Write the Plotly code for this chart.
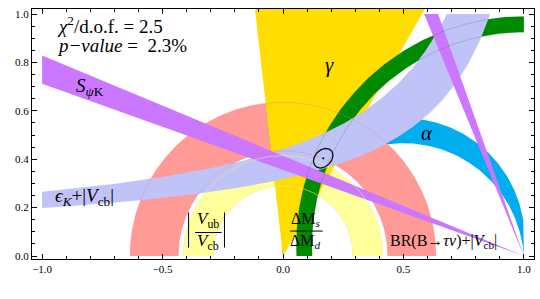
import numpy as np
import plotly.graph_objects as go

# ---- constraint parameters ----
vub_radii = [0.29, 0.415]            # |Vub/Vcb| annulus around (0,0)
btau_radii = [0.435, 0.635]          # BR(B->tau nu)+|Vcb| annulus around (0,0)
dm_center = [1.0, 0.045]             # Delta Ms / Delta Md annulus
dm_radii = [0.88, 0.945]
gamma_deg = [60.0, 96.5]             # gamma wedge from (0,0)
alpha_deg = [82.5, 94.0]             # alpha arcs through (0,0) and (1,0)
beta_deg = [19.6, 22.5]              # S_psiK wedge from (1,0) (two-fold solution)
epsk_upper = [1.135, 0.4246, 0.0671]  # eta = k/(a-rho)+b  : a, k, b
epsk_lower = [1.189, 0.3102, 0.0563]
fit_center = [0.167, 0.404]
fit_axes = [0.046, 0.034]
fit_angle_deg = 45.0
chi2_dof = 2.5
p_value = 2.3

x_range = [-1.042, 1.042]
y_range = [-0.0124, 1.0207]

colors = dict(alpha="#00AEEF", vub="#FFFF9C", btau="#FF9A97", gamma="#FFDD00",
              dm="#008A00", epsk="#C0C3F7", spsik="#CC77FF")

FONT = "Liberation Serif, Times New Roman, DejaVu Serif, serif"


def clip(xs, ys, xmin=-1.0, xmax=1.0, ymin=0.0, ymax=1.0):
    pts = list(zip(xs, ys))

    def clip_edge(pts, inside, inter):
        out = []
        n = len(pts)
        for i in range(n):
            cur, prev = pts[i], pts[i - 1]
            if inside(cur):
                if not inside(prev):
                    out.append(inter(prev, cur))
                out.append(cur)
            elif inside(prev):
                out.append(inter(prev, cur))
        return out

    def ix(v):
        return lambda p, q: (v, p[1] + (q[1] - p[1]) * (v - p[0]) / (q[0] - p[0]))

    def iy(v):
        return lambda p, q: (p[0] + (q[0] - p[0]) * (v - p[1]) / (q[1] - p[1]), v)

    pts = clip_edge(pts, lambda p: p[0] >= xmin, ix(xmin))
    pts = clip_edge(pts, lambda p: p[0] <= xmax, ix(xmax))
    pts = clip_edge(pts, lambda p: p[1] >= ymin, iy(ymin))
    pts = clip_edge(pts, lambda p: p[1] <= ymax, iy(ymax))
    if not pts:
        return [], []
    a = np.array(pts)
    return list(a[:, 0]) + [a[0, 0]], list(a[:, 1]) + [a[0, 1]]


def annulus(cx, cy, r1, r2):
    t = np.linspace(-0.2, np.pi + 0.2, 300)
    xs = np.concatenate([cx + r2 * np.cos(t), cx + r1 * np.cos(t[::-1])])
    ys = np.concatenate([cy + r2 * np.sin(t), cy + r1 * np.sin(t[::-1])])
    return clip(xs, ys)


def wedge(cx, cy, a1, a2, length=3.0, ymax=1.0):
    t = np.radians(np.linspace(a1, a2, 50))
    xs = np.concatenate([[cx], cx + length * np.cos(t)])
    ys = np.concatenate([[cy], cy + length * np.sin(t)])
    return clip(xs, ys, ymax=ymax)


def alpha_arc(a_deg):
    a = np.radians(a_deg)
    c = 0.5 / np.tan(a)
    R = 0.5 / np.sin(a)
    p0 = np.arcsin(-c / R)
    t = np.linspace(p0, np.pi - p0, 300)
    return 0.5 + R * np.cos(t), c + R * np.sin(t)


def hyper(p, rho):
    a, k, b = p
    return k / (a - rho) + b


fig = go.Figure()


def add_fill(xs, ys, color):
    fig.add_trace(go.Scatter(x=xs, y=ys, mode="lines", fill="toself", fillcolor=color,
                             line=dict(width=0, color=color), hoverinfo="skip",
                             showlegend=False))


def add_line(xs, ys, color, width=0.7):
    fig.add_trace(go.Scatter(x=xs, y=ys, mode="lines", line=dict(width=width, color=color),
                             hoverinfo="skip", showlegend=False))


# alpha
ox, oy = alpha_arc(alpha_deg[0])
ix_, iy_ = alpha_arc(alpha_deg[1])
add_fill(*clip(np.concatenate([ox, ix_[::-1]]), np.concatenate([oy, iy_[::-1]])), colors["alpha"])
# |Vub/Vcb|
add_fill(*annulus(0, 0, *vub_radii), colors["vub"])
# BR(B->tau nu)
add_fill(*annulus(0, 0, *btau_radii), colors["btau"])
# gamma
add_fill(*wedge(0, 0, gamma_deg[0], gamma_deg[1], ymax=y_range[1]), colors["gamma"])
# Delta Ms / Delta Md
add_fill(*annulus(dm_center[0], dm_center[1], *dm_radii), colors["dm"])
# eps_K
rho_u = np.linspace(-1, epsk_upper[0] - epsk_upper[1] / (1 - epsk_upper[2]), 200)
rho_l = np.linspace(-1, epsk_lower[0] - epsk_lower[1] / (1 - epsk_lower[2]), 200)
ex = np.concatenate([rho_u, rho_l[::-1]])
ey = np.concatenate([hyper(epsk_upper, rho_u), hyper(epsk_lower, rho_l)[::-1]])
add_fill(*clip(ex, ey), colors["epsk"])
# S_psiK (two solutions)
add_fill(*wedge(1, 0, 180 - beta_deg[1], 180 - beta_deg[0]), colors["spsik"])
add_fill(*wedge(1, 0, 180 - (90 - beta_deg[0]), 180 - (90 - beta_deg[1])), colors["spsik"])

# faint boundary lines
t = np.linspace(0, np.pi, 300)
for r in btau_radii:
    add_line(r * np.cos(t), r * np.sin(t), "rgba(235,120,120,0.45)")
for r in vub_radii:
    add_line(r * np.cos(t), r * np.sin(t), "rgba(235,235,150,0.8)")
for r in dm_radii:
    tt = np.linspace(np.pi / 2, np.pi, 300)
    gx = dm_center[0] + r * np.cos(tt)
    gy = dm_center[1] + r * np.sin(tt)
    gy = np.where(gy > 1, np.nan, gy)
    add_line(gx, gy, "rgba(0,120,0,0.3)")

# fit ellipse
th = np.linspace(0, 2 * np.pi, 200)
ang = np.radians(fit_angle_deg)
exl = fit_axes[0] * np.cos(th)
eyl = fit_axes[1] * np.sin(th)
fig.add_trace(go.Scatter(x=fit_center[0] + exl * np.cos(ang) - eyl * np.sin(ang),
                         y=fit_center[1] + exl * np.sin(ang) + eyl * np.cos(ang),
                         mode="lines", line=dict(color="#111111", width=1.3),
                         hoverinfo="skip", showlegend=False))
fig.add_trace(go.Scatter(x=[fit_center[0]], y=[fit_center[1]], mode="markers",
                         marker=dict(size=2, color="black"), hoverinfo="skip", showlegend=False))

ann = []


def text(x, y, s, size, xanchor="center"):
    ann.append(dict(x=x, y=y, xref="x", yref="y", text=s, showarrow=False, xanchor=xanchor,
                    yanchor="middle", font=dict(family=FONT, size=size, color="black")))


text(-0.946, 0.955, "<i>χ</i><sup>2</sup>/d.o.f. = %.1f" % chi2_dof, 19, "left")
text(-0.946, 0.868, "<i>p−value</i> =  %.1f%%" % p_value, 19, "left")
text(-0.80, 0.70, "<i>S</i><sub><i>ψ</i>K</sub>", 19)
text(0.195, 0.789, "<i>γ</i>", 21)
text(0.598, 0.508, "<i>α</i>", 21)
text(-0.954, 0.244, "<i>ϵ</i><sub><i>K</i></sub>+|<i>V</i><sub>cb</sub>|", 19, "left")
text(0.436, 0.060, "BR(B→<i>τν</i>)+|<i>V</i><sub>cb</sub>|", 16, "left")
text(0.095, 0.150, "ΔM<sub><i>s</i></sub>", 16)
text(0.095, 0.060, "ΔM<sub><i>d</i></sub>", 16)
text(-0.311, 0.148, "<i>V</i><sub>ub</sub>", 17)
text(-0.311, 0.058, "<i>V</i><sub>cb</sub>", 17)
text(-0.001, -0.112, "<i>ρ̄</i>", 22)
text(-1.133, 0.508, "<i>η̄</i>", 22)

shapes = [
    dict(type="line", xref="x", yref="y", x0=0.03, x1=0.165, y0=0.103, y1=0.103,
         line=dict(color="black", width=1)),
    dict(type="line", xref="x", yref="y", x0=-0.365, x1=-0.255, y0=0.097, y1=0.097,
         line=dict(color="black", width=1)),
    dict(type="line", xref="x", yref="y", x0=-0.392, x1=-0.392, y0=0.035, y1=0.18,
         line=dict(color="black", width=1)),
    dict(type="line", xref="x", yref="y", x0=-0.243, x1=-0.243, y0=0.035, y1=0.18,
         line=dict(color="black", width=1)),
]

axis_common = dict(showgrid=False, zeroline=False, showline=True, linecolor="black",
                   linewidth=1, mirror="allticks", ticks="inside", ticklen=5, tickwidth=1,
                   tickcolor="black", tickformat=".1f",
                   tickfont=dict(family=FONT, size=11, color="black"))

fig.update_layout(
    width=540, height=299, margin=dict(l=32, r=6, t=9, b=40),
    paper_bgcolor="white", plot_bgcolor="white",
    xaxis=dict(range=x_range, tick0=-1, dtick=0.5,
               minor=dict(ticks="inside", dtick=0.1, ticklen=3, tickcolor="black"),
               **axis_common),
    yaxis=dict(range=y_range, tick0=0, dtick=0.2,
               minor=dict(ticks="inside", dtick=0.05, ticklen=3, tickcolor="black"),
               **axis_common),
    annotations=ann, shapes=shapes,
)

fig.write_html("out.html", config={"displayModeBar": False},
               post_script="document.body.style.margin='0px';")
